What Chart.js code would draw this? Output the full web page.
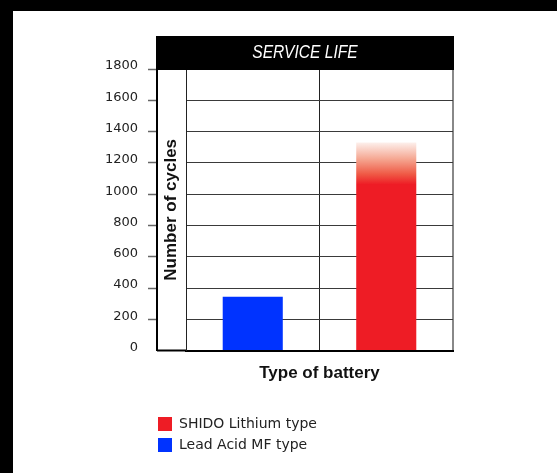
<!DOCTYPE html>
<html>
<head>
<meta charset="utf-8">
<script src="https://cdn.jsdelivr.net/npm/chart.js"></script>
<style>
  html, body { margin: 0; padding: 0; background: #000; width: 557px; height: 473px; overflow: hidden; }
  #wrap { position: absolute; left: 13px; top: 11px; width: 544px; height: 462px; background: #fff; }
</style>
</head>
<body>
<div id="wrap"><canvas id="myChart" width="544" height="462"></canvas></div>
<script>
// data
var categories = ['Lead Acid MF type', 'SHIDO Lithium type'];
var shidoCycles = [null, 1330];
var leadAcidCycles = [345, null];
var yMin = 0, yMax = 1800, yStep = 200;

var chartTitle = 'SERVICE LIFE';
var yTitle = 'Number of cycles';
var xTitle = 'Type of battery';

var red = '#ee1c25';
var blue = '#0033ff';

// top of the red bar fades out
function redFill(c) {
  var chart = c.chart;
  if (!c.parsed || c.parsed.y == null || !chart.chartArea) return red;
  var top = chart.scales.y.getPixelForValue(c.parsed.y);
  var g = chart.ctx.createLinearGradient(0, top, 0, top + 42);
  g.addColorStop(0, '#fdf0ec');
  g.addColorStop(0.4, '#f5a590');
  g.addColorStop(0.75, '#ef5a46');
  g.addColorStop(1, red);
  return g;
}

var titleBox = {
  id: 'titleBox',
  afterLayout: function(chart) {
    // legend sits under the y column, not under the plot
    var lg = chart.legend;
    var dx = chart.scales.yCol.left - 6 - lg.left;
    lg.left += dx;
    lg.right += dx;
  },
  afterDraw: function(chart) {
    var ctx = chart.ctx, area = chart.chartArea;
    var left = chart.scales.y.right;
    var top = area.top - 33;
    ctx.save();
    ctx.fillStyle = '#000';
    ctx.fillRect(left - 1, top, area.right - left + 2, 34);
    ctx.fillStyle = '#fff';
    ctx.font = 'italic 19px "Liberation Sans", sans-serif';
    ctx.textAlign = 'center';
    ctx.textBaseline = 'middle';
    // condensed look
    ctx.translate((left + area.right) / 2, top + 17);
    ctx.scale(0.82, 1);
    ctx.fillText(chartTitle, 0, 0);
    ctx.restore();
  }
};

var ctx = document.getElementById('myChart');

var myChart = new Chart(ctx, {
  type: 'bar',
  data: {
    labels: categories,
    datasets: [
      {
        label: 'SHIDO Lithium type',
        data: shidoCycles,
        backgroundColor: redFill,
        skipNull: true,
        barPercentage: 0.45,
        categoryPercentage: 1
      },
      {
        label: 'Lead Acid MF type',
        data: leadAcidCycles,
        backgroundColor: blue,
        skipNull: true,
        barPercentage: 0.45,
        categoryPercentage: 1
      }
    ]
  },
  options: {
    responsive: false,
    animation: false,
    layout: { padding: { left: 92, right: 104, top: 58, bottom: 11 } },
    plugins: {
      title: { display: false },
      tooltip: { enabled: false },
      legend: {
        position: 'bottom',
        align: 'start',
        fullSize: false,
        labels: {
          boxWidth: 14,
          boxHeight: 14,
          padding: 7,
          color: '#222',
          font: { family: 'DejaVu Sans', size: 14 }
        }
      }
    },
    scales: {
      x: {
        ticks: { display: false },
        grid: {
          offset: true,
          drawTicks: false,
          color: function(c) { return c.type === 'tick' ? '#222' : '#888'; },
          lineWidth: function(c) { return c.type === 'tick' ? 1 : 2; }
        },
        border: { color: '#000', width: 2 },
        title: {
          display: true,
          text: xTitle,
          color: '#111',
          font: { family: 'Liberation Sans', size: 17, weight: 'bold' },
          padding: { top: 13, bottom: 26 }
        }
      },
      y: {
        weight: 1,
        min: yMin,
        max: yMax,
        ticks: {
          stepSize: yStep,
          padding: 10,
          labelOffset: -3,
          color: '#222',
          font: { family: 'DejaVu Sans', size: 13 },
          callback: function(v) { return String(v); }
        },
        grid: {
          color: '#3a3a3a',
          tickLength: 9,
          tickColor: function(c) { return c.tick && c.tick.value === 0 ? 'rgba(0,0,0,0)' : '#666'; },
          tickWidth: 1.5
        },
        border: { color: '#000', width: 2 },
        afterFit: function(s) { s.width = 52; }
      },
      yCol: {
        weight: 0,
        position: 'left',
        min: yMin,
        max: yMax,
        ticks: { display: false, stepSize: yStep },
        grid: {
          drawOnChartArea: false,
          tickLength: 29,
          tickColor: function(c) { return c.tick && c.tick.value === 0 ? '#000' : 'rgba(0,0,0,0)'; },
          tickWidth: 2
        },
        border: { color: '#222', width: 1 },
        title: {
          display: true,
          text: yTitle,
          color: '#111',
          font: { family: 'Liberation Sans', size: 17, weight: 'bold' },
          padding: { top: 4, bottom: 0 }
        },
        afterFit: function(s) { s.width = 29; }
      }
    }
  },
  plugins: [titleBox]
});
</script>
</body>
</html>
